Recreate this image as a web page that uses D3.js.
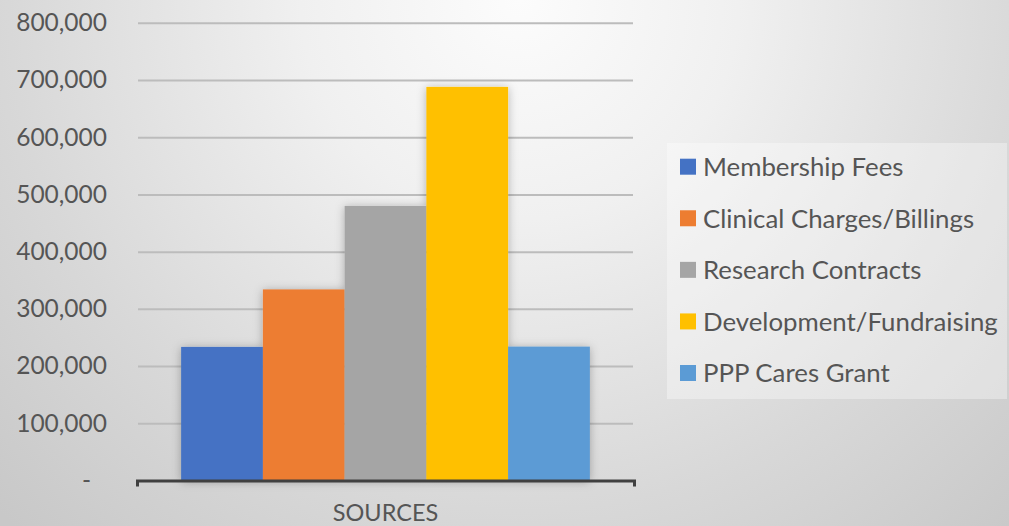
<!DOCTYPE html>
<html><head><meta charset="utf-8">
<script src="https://cdn.jsdelivr.net/npm/d3@7"></script>
<style>html,body{margin:0;padding:0;background:#e0e0e0;}svg{display:block;}</style>
</head><body>
<svg id="chart" width="1009" height="526"></svg>
<script>
const category = ["SOURCES"];
const series = ["Membership Fees","Clinical Charges/Billings","Research Contracts","Development/Fundraising","PPP Cares Grant"];
const values = [233500, 334000, 480000, 688000, 234000];
const colors = ["#4472C4","#ED7D31","#A5A5A5","#FFC000","#5B9BD5"];
const yTicks = [0,100000,200000,300000,400000,500000,600000,700000,800000];

const svg = d3.select("#chart");
const W = 1009, H = 526;
const FONT = "Lato, 'Open Sans', sans-serif";
const TXT = "#555555";

const defs = svg.append("defs");
const rg = defs.append("radialGradient").attr("id","bg")
  .attr("gradientUnits","userSpaceOnUse").attr("cx",520).attr("cy",0).attr("r",730);
rg.append("stop").attr("offset",0).attr("stop-color","#fcfcfc");
rg.append("stop").attr("offset",0.3).attr("stop-color","#f0f0f0");
rg.append("stop").attr("offset",0.7).attr("stop-color","#d8d8d8");
rg.append("stop").attr("offset",1).attr("stop-color","#c8c8c8");
const f = defs.append("filter").attr("id","sh").attr("x","-30%").attr("y","-30%").attr("width","160%").attr("height","160%");
f.append("feDropShadow").attr("dx",0).attr("dy",1).attr("stdDeviation",5).attr("flood-color","#000").attr("flood-opacity",0.28);

svg.append("rect").attr("width",W).attr("height",H).attr("fill","url(#bg)");

const x0 = d3.scaleBand().domain(category).range([137, 634]).padding(0);
const x1 = d3.scaleBand().domain(series).range([0, x0.bandwidth()]).paddingInner(0).paddingOuter(0.54);
const y = d3.scaleLinear().domain([0, 800000]).range([480.5, 22.8]);

// gridlines
const grid = svg.append("g").attr("transform","translate(138,0)")
  .call(d3.axisLeft(y).tickValues(yTicks.filter(d=>d>0)).tickSize(-495).tickFormat(""));
grid.select(".domain").remove();
grid.selectAll("line").attr("stroke","#bcbcbc").attr("stroke-width",2);

// y labels
const yAx = svg.append("g").attr("transform","translate(107,0)")
  .call(d3.axisLeft(y).tickValues(yTicks).tickSize(0).tickPadding(0)
    .tickFormat(d => d === 0 ? "-" : d3.format(",")(d)));
yAx.select(".domain").remove();
yAx.selectAll("text").attr("font-family",FONT).attr("font-size",24.5).attr("fill",TXT)
  .attr("dx", d => d === 0 ? -16 : 0);

// bars
const gb = svg.append("g").attr("filter","url(#sh)");
gb.selectAll("rect").data(series.map((s,i)=>({s, v: values[i], c: colors[i]})))
  .join("rect")
  .attr("x", d => x0(category[0]) + x1(d.s))
  .attr("width", x1.bandwidth())
  .attr("y", d => y(d.v))
  .attr("height", d => y(0) - y(d.v))
  .attr("fill", d => d.c);

// x axis
const xAx = svg.append("g").attr("transform", `translate(0,${y(0)})`)
  .call(d3.axisBottom(x0).tickSizeInner(0).tickSizeOuter(6).tickPadding(24));
xAx.select(".domain").attr("stroke","#404040").attr("stroke-width",3);
xAx.selectAll("text").attr("font-family",FONT).attr("font-size",23.5).attr("fill",TXT);

// legend
svg.append("rect").attr("x",667).attr("y",143).attr("width",340).attr("height",256)
  .attr("fill","#ffffff").attr("fill-opacity",0.35);
const ly = d3.scalePoint().domain(series).range([166.7, 373]);
const lg = svg.append("g").selectAll("g").data(series).join("g")
  .attr("transform", d => `translate(680,${ly(d)})`);
lg.append("rect").attr("x",0).attr("y",-8).attr("width",16).attr("height",16)
  .attr("fill", (d,i) => colors[i]);
lg.append("text").attr("x",23).attr("dy","0.36em").text(d=>d)
  .attr("font-family",FONT).attr("font-size",25.8).attr("fill",TXT);
</script>
</body></html>
